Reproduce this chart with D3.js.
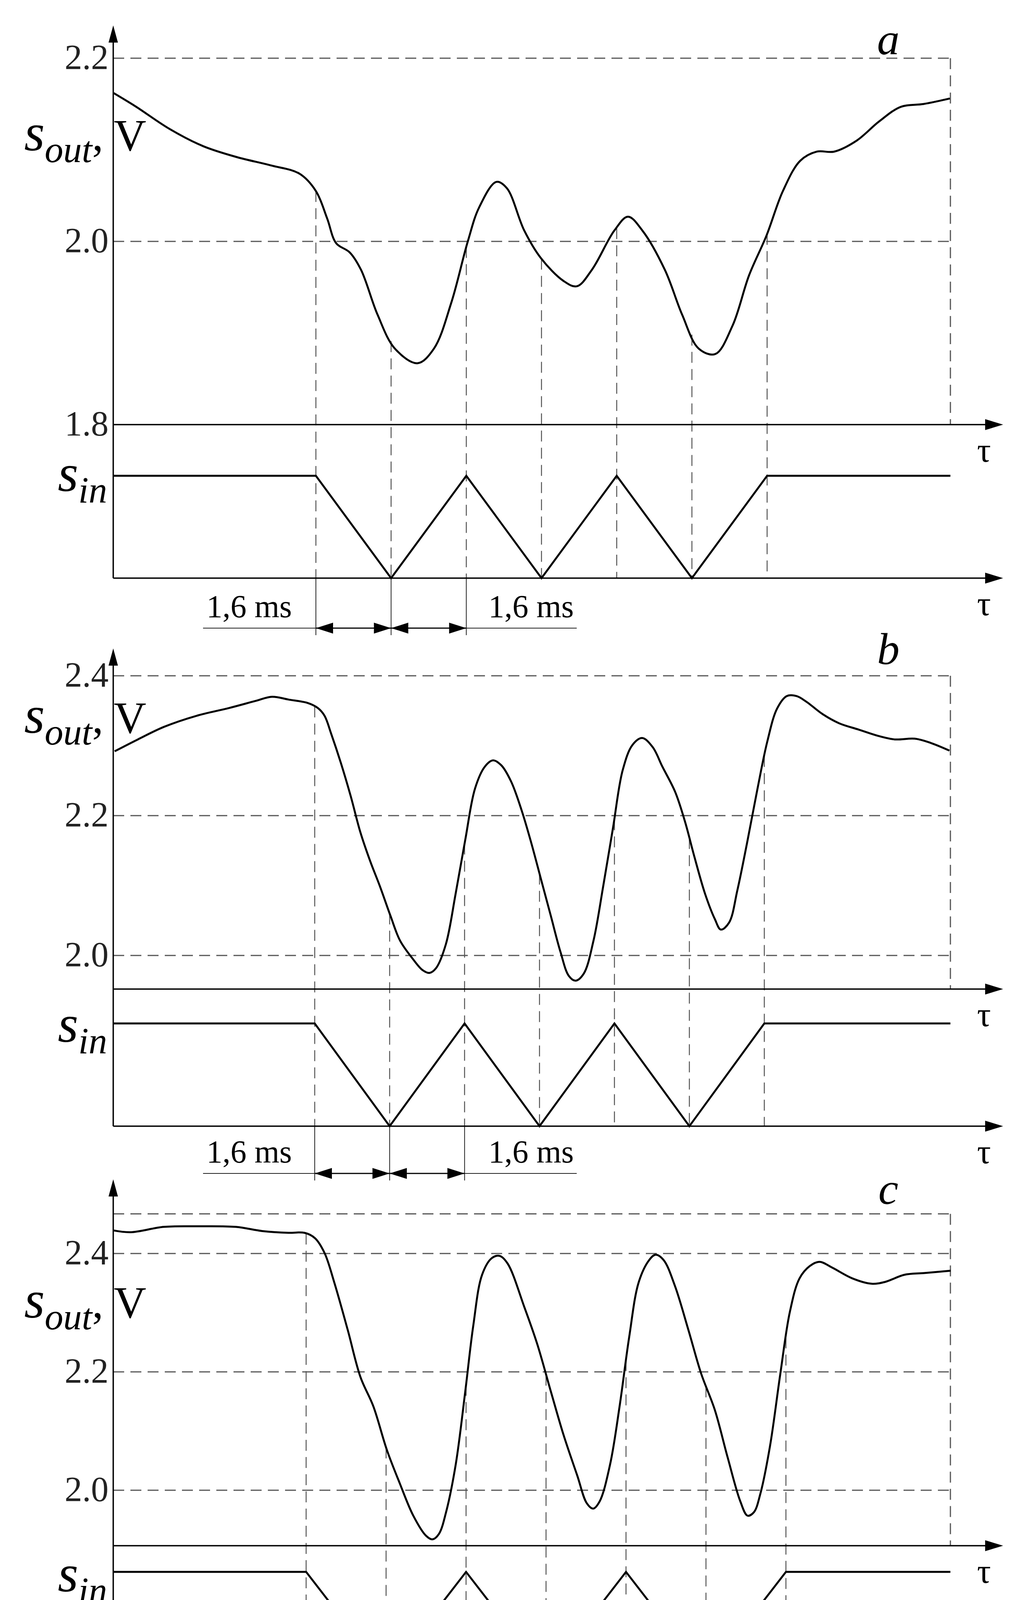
<!DOCTYPE html>
<html><head><meta charset="utf-8">
<script src="https://cdn.jsdelivr.net/npm/d3@7"></script>
<style>body{margin:0;background:#fff;overflow:hidden}svg{display:block}text{font-family:"Liberation Serif","Times New Roman","DejaVu Serif",serif}</style></head>
<body><svg id="c" width="2602" height="4468"></svg>
<script>
// time in units of 1.6 ms segments, voltage in V
const tA=[-2.69,-2.39,-1.95,-1.50,-1.05,-0.60,-0.22,0,0.15,0.27,0.45,0.60,0.82,1.05,1.35,1.57,1.80,2.02,2.17,2.40,2.54,2.77,2.99,3.29,3.47,3.67,3.97,4.15,4.34,4.64,4.87,5.09,5.31,5.54,5.76,5.99,6.21,6.44,6.66,6.89,7.19,7.49,7.78,8.08,8.43];
const vA=[2.162,2.147,2.123,2.104,2.092,2.083,2.074,2.055,2.025,1.998,1.988,1.969,1.920,1.883,1.867,1.883,1.933,2.0,2.037,2.065,2.058,2.012,1.982,1.957,1.951,1.969,2.012,2.027,2.012,1.969,1.920,1.883,1.877,1.908,1.963,2.006,2.055,2.088,2.098,2.098,2.110,2.131,2.147,2.150,2.156];
const tB=[-2.67,-2.36,-2.01,-1.57,-1.14,-0.79,-0.57,-0.35,-0.09,0.04,0.13,0.22,0.35,0.48,0.61,0.74,0.87,1.01,1.14,1.31,1.44,1.53,1.62,1.75,1.88,2.01,2.14,2.27,2.38,2.49,2.62,2.76,2.89,3.02,3.15,3.28,3.39,3.48,3.59,3.72,3.85,3.98,4.11,4.24,4.37,4.51,4.64,4.81,4.94,5.07,5.21,5.34,5.42,5.53,5.64,5.77,5.91,6.04,6.17,6.30,6.43,6.56,6.78,7.00,7.26,7.52,7.74,8.01,8.22,8.47];
const vB=[2.292,2.309,2.327,2.343,2.354,2.364,2.370,2.366,2.361,2.354,2.343,2.317,2.275,2.228,2.176,2.135,2.099,2.057,2.021,1.995,1.979,1.975,1.982,2.016,2.088,2.166,2.239,2.270,2.279,2.272,2.249,2.208,2.161,2.109,2.057,2.005,1.971,1.964,1.974,2.021,2.099,2.182,2.265,2.301,2.311,2.298,2.270,2.234,2.192,2.140,2.088,2.052,2.037,2.047,2.093,2.161,2.239,2.306,2.353,2.371,2.371,2.363,2.345,2.332,2.323,2.314,2.309,2.310,2.304,2.293];
const tC=[-2.41,-2.19,-1.78,-1.37,-0.88,-0.55,-0.22,-0.02,0.11,0.23,0.35,0.52,0.68,0.84,1.01,1.17,1.34,1.50,1.58,1.66,1.75,1.87,1.99,2.09,2.20,2.32,2.42,2.52,2.73,2.89,3.06,3.22,3.39,3.51,3.59,3.67,3.80,3.92,4.04,4.16,4.29,4.37,4.47,4.61,4.78,4.94,5.11,5.27,5.43,5.52,5.60,5.68,5.80,5.93,6.05,6.17,6.30,6.42,6.58,6.83,7.07,7.24,7.48,7.73,8.06];
const vC=[2.439,2.436,2.445,2.446,2.445,2.438,2.435,2.435,2.426,2.401,2.352,2.271,2.191,2.142,2.068,2.012,1.957,1.923,1.917,1.926,1.963,2.043,2.167,2.278,2.364,2.392,2.396,2.383,2.309,2.247,2.167,2.093,2.025,1.978,1.969,1.981,2.043,2.142,2.259,2.352,2.389,2.398,2.389,2.346,2.271,2.197,2.136,2.056,1.981,1.957,1.963,1.994,2.074,2.197,2.302,2.358,2.379,2.386,2.376,2.358,2.349,2.352,2.364,2.367,2.371];
const inT=[0,1,2,3,4,5,6];
const inLevel=[1,0,1,0,1,0,1];
const ticksA=["2.2","2.0","1.8"], tickVA=[2.2,2.0,1.8];
const ticksB=["2.4","2.2","2.0"], tickVB=[2.4,2.2,2.0];
const ticksC=["2.4","2.2","2.0"], tickVC=[2.4,2.2,2.0];

const panels=[
 {lab:"a",t:tA,v:vA,tk:ticksA,tv:tickVA,top:2.2,y0:1.8,y0px:1087,y1:2.2,y1px:149,axisY:1087,arrowTop:65,
  inHi:1218,inBase:1480,t0:809,step:192.6,row:1608,labY:109,soutY:360,sinY:1232,gridV:[2.0]},
 {lab:"b",t:tB,v:vB,tk:ticksB,tv:tickVB,top:2.4,y0:2.0,y0px:2446,y1:2.4,y1px:1730,axisY:2532,arrowTop:1660,
  inHi:2620,inBase:2883,t0:806,step:191.9,row:3004,labY:1670,soutY:1851,sinY:2642,gridV:[2.2,2.0]},
 {lab:"c",t:tC,v:vC,tk:ticksC,tv:tickVC,top:2.467,y0:2.0,y0px:3815,y1:2.4,y1px:3209,axisY:3957,arrowTop:3019,
  inHi:4024,inBase:4289,t0:784,step:204.8,row:4409,labY:3052,soutY:3348,sinY:4049,gridV:[2.4,2.2,2.0]}
];
const svg=d3.select("#c");
const AX=290, RX=2434, TIP=2569;
function arrowR(x,y){svg.append("path").attr("d",`M${x},${y}l-46,-14l0,28z`).attr("fill","#000");}
function arrowU(x,y){svg.append("path").attr("d",`M${x},${y}l-12,44l24,0z`).attr("fill","#000");}
panels.forEach(p=>{
  const x=d3.scaleLinear().domain([0,1]).range([p.t0,p.t0+p.step]);
  const tL=x.invert(AX), tR=x.invert(RX);
  const y=d3.scaleLinear().domain([p.y0,p.y1]).range([p.y0px,p.y1px]);
  const g=svg.append("g");
  const dash="28,16";
  p.gridV.concat([p.top]).forEach(v=>{
    g.append("line").attr("x1",AX).attr("x2",RX).attr("y1",y(v)).attr("y2",y(v))
     .attr("stroke","#555").attr("stroke-width",3).attr("stroke-dasharray",dash);
  });
  g.append("line").attr("x1",RX).attr("x2",RX).attr("y1",y(p.top)).attr("y2",p.axisY)
     .attr("stroke","#555").attr("stroke-width",3).attr("stroke-dasharray",dash);
  const interp=t=>{const i=d3.bisectLeft(p.t,t);if(i<=0)return p.v[0];const a=p.t[i-1],b=p.t[i];return p.v[i-1]+(p.v[i]-p.v[i-1])*(t-a)/(b-a);};
  const yIn=d3.scaleLinear().domain([0,1]).range([p.inBase,p.inHi]);
  inT.forEach(t=>{
    g.append("line").attr("x1",x(t)).attr("x2",x(t)).attr("y1",y(interp(t))).attr("y2",p.inBase)
     .attr("stroke","#555").attr("stroke-width",2.5).attr("stroke-dasharray",dash);
  });
  [0,1,2].forEach(t=>g.append("line").attr("x1",x(t)).attr("x2",x(t)).attr("y1",p.inBase).attr("y2",p.row+18)
     .attr("stroke","#222").attr("stroke-width",2));
  g.append("line").attr("x1",AX).attr("x2",AX).attr("y1",p.arrowTop+30).attr("y2",p.inBase).attr("stroke","#000").attr("stroke-width",3.5);
  arrowU(AX,p.arrowTop);
  [p.axisY,p.inBase].forEach(yy=>{
    g.append("line").attr("x1",AX).attr("x2",TIP-20).attr("y1",yy).attr("y2",yy).attr("stroke","#000").attr("stroke-width",3.5);
    arrowR(TIP,yy);
    g.append("text").attr("x",2520).attr("y",yy+95).attr("font-size",88).attr("text-anchor","middle").text("τ");
  });
  p.tk.forEach((s,i)=>g.append("text").attr("x",AX-12).attr("y",y(p.tv[i])+28).attr("text-anchor","end")
    .attr("font-size",90).attr("fill","#222").text(s));
  g.append("path").datum(p.t.map((t,i)=>[t,p.v[i]]))
   .attr("d",d3.line().x(d=>x(d[0])).y(d=>y(d[1])).curve(d3.curveCatmullRom.alpha(0.5)))
   .attr("fill","none").attr("stroke","#000").attr("stroke-width",5);
  const pts=[[tL,1]].concat(inT.map((t,i)=>[t,inLevel[i]])).concat([[tR,1]]);
  g.append("path").datum(pts).attr("d",d3.line().x(d=>x(d[0])).y(d=>yIn(d[1])))
   .attr("fill","none").attr("stroke","#000").attr("stroke-width",5).attr("stroke-linejoin","miter");
  g.append("text").attr("x",2275).attr("y",p.labY+30).attr("font-style","italic").attr("font-size",115).attr("text-anchor","middle").text(p.lab);
  const so=g.append("text").attr("x",62).attr("y",p.soutY+25).attr("font-size",135);
  so.append("tspan").attr("font-style","italic").text("s");
  so.append("tspan").attr("font-style","italic").attr("font-size",95).attr("dy",30).text("out");
  so.append("tspan").attr("dy",-30).attr("font-size",115).text(", V");
  const si=g.append("text").attr("x",148).attr("y",p.sinY+25).attr("font-size",135);
  si.append("tspan").attr("font-style","italic").text("s");
  si.append("tspan").attr("font-style","italic").attr("font-size",95).attr("dy",30).text("in");
  g.append("line").attr("x1",520).attr("x2",x(0)).attr("y1",p.row).attr("y2",p.row).attr("stroke","#222").attr("stroke-width",2);
  g.append("line").attr("x1",x(2)).attr("x2",1477).attr("y1",p.row).attr("y2",p.row).attr("stroke","#222").attr("stroke-width",2);
  [[0,1],[1,2]].forEach(([a,b])=>{
    const xa=x(a),xb=x(b);
    g.append("line").attr("x1",xa).attr("x2",xb).attr("y1",p.row).attr("y2",p.row).attr("stroke","#000").attr("stroke-width",3);
    g.append("path").attr("d",`M${xa},${p.row}l44,-14l0,28z M${xb},${p.row}l-44,-14l0,28z`).attr("fill","#000");
  });
  [[638,"1,6 ms"],[1360,"1,6 ms"]].forEach(([xx,s])=>g.append("text").attr("x",xx).attr("y",p.row-28)
    .attr("text-anchor","middle").attr("font-size",82).text(s));
});
</script></body></html>
